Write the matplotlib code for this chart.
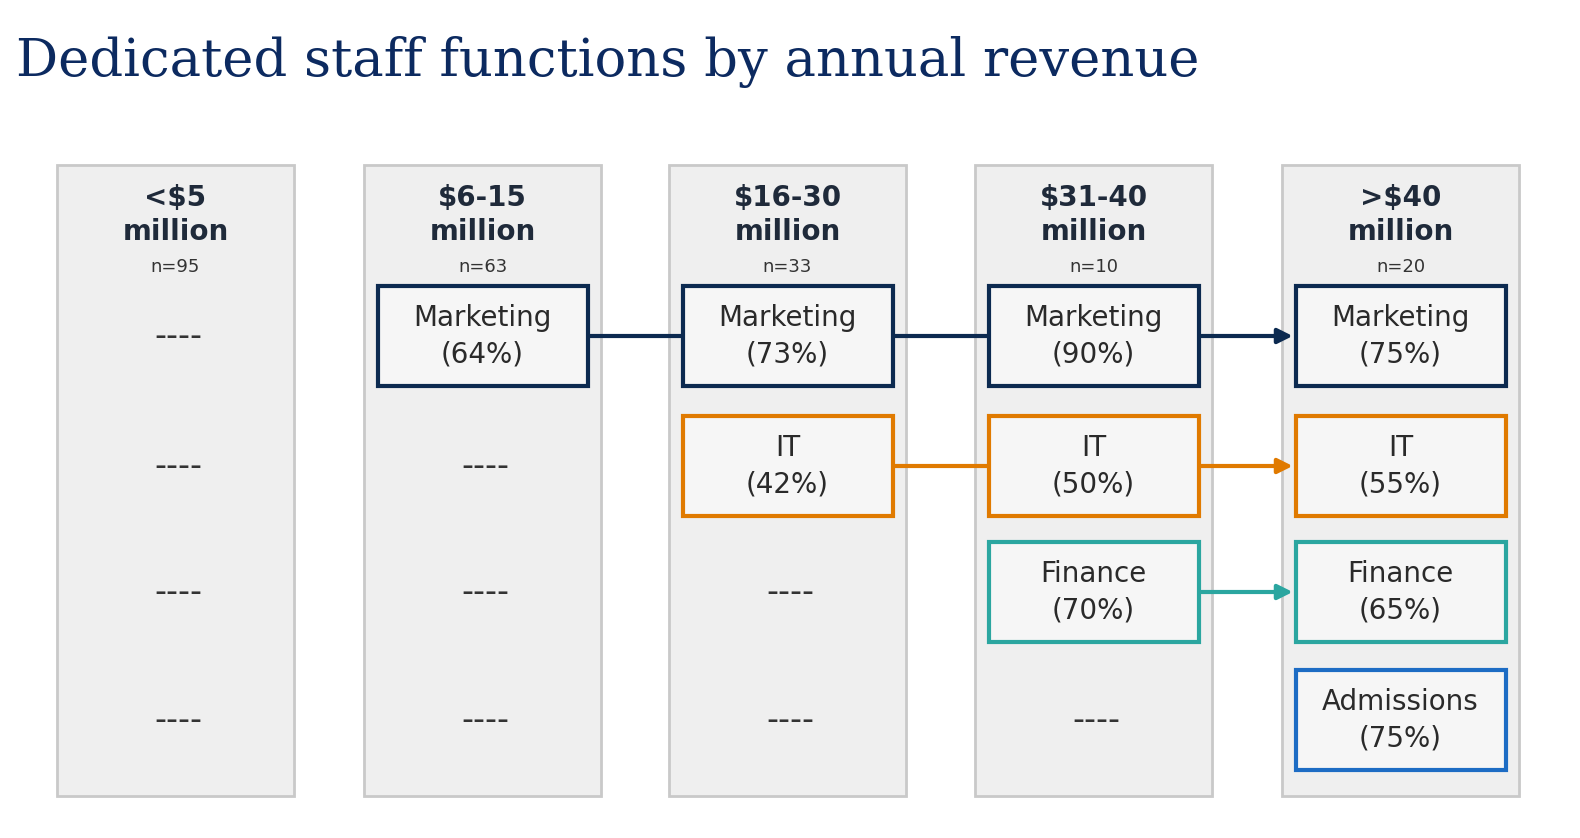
import matplotlib.pyplot as plt
from matplotlib.patches import Rectangle

# data
revenue_bands = ["<$5\nmillion", "$6-15\nmillion", "$16-30\nmillion", "$31-40\nmillion", ">$40\nmillion"]
sample_sizes = [95, 63, 33, 10, 20]
functions = ["Marketing", "IT", "Finance", "Admissions"]
marketing_pct = [None, 64, 73, 90, 75]
it_pct = [None, None, 42, 50, 55]
finance_pct = [None, None, None, 70, 65]
admissions_pct = [None, None, None, None, 75]
all_pct = [marketing_pct, it_pct, finance_pct, admissions_pct]

colors = ["#0c2a50", "#e07a00", "#2ba6a0", "#1d6cc4"]
arrow_to_last = [True, True, True, False]

col_left = [57, 364, 669, 975, 1282]
col_w, col_top, col_bot = 237, 165, 796
row_y = [336, 466, 592, 720]
box_w, box_h = 210, 100

fig = plt.figure(figsize=(15.8, 8.38), dpi=100)
ax = fig.add_axes([0, 0, 1, 1])
ax.set_xlim(0, 1580)
ax.set_ylim(838, 0)
ax.axis("off")

ax.text(16, 62, "Dedicated staff functions by annual revenue", fontsize=38,
        color="#0c2a60", family="DejaVu Serif", fontweight="light", va="center")

for c, (band, n) in enumerate(zip(revenue_bands, sample_sizes)):
    x0 = col_left[c]
    cx = x0 + col_w / 2
    ax.add_patch(Rectangle((x0, col_top), col_w, col_bot - col_top, facecolor="#efefef",
                           edgecolor="#c9c9c9", lw=2, zorder=0))
    ax.text(cx, 215, band, ha="center", va="center", fontsize=20, fontweight="bold",
            color="#1f2a3a", linespacing=1.25)
    ax.text(cx, 267, f"n={n}", ha="center", va="center", fontsize=13, color="#333333")

for r, vals in enumerate(all_pct):
    present = [c for c, v in enumerate(vals) if v is not None]
    for c in range(5):
        cx = col_left[c] + col_w / 2
        v = vals[c]
        if v is None:
            ax.text(cx + 3, row_y[r], "----", ha="center", va="center", fontsize=24, color="#333333")
            continue
        ax.add_patch(Rectangle((cx - box_w / 2, row_y[r] - box_h / 2), box_w, box_h,
                               facecolor="#f6f6f6", edgecolor=colors[r], lw=3, zorder=3))
        ax.text(cx, row_y[r], f"{functions[r]}\n({v}%)", ha="center", va="center",
                fontsize=20, color="#2a2a2a", linespacing=1.4, zorder=4)
    for a, b in zip(present[:-1], present[1:]):
        xa = col_left[a] + col_w / 2 + box_w / 2
        xb = col_left[b] + col_w / 2 - box_w / 2
        if b == 4 and arrow_to_last[r]:
            ax.annotate("", xy=(xb, row_y[r]), xytext=(xa, row_y[r]), zorder=2,
                        arrowprops=dict(arrowstyle="-|>", color=colors[r], lw=3, mutation_scale=22))
        else:
            ax.plot([xa, xb], [row_y[r], row_y[r]], color=colors[r], lw=3, zorder=2)

fig.savefig("out.png", dpi=100)
